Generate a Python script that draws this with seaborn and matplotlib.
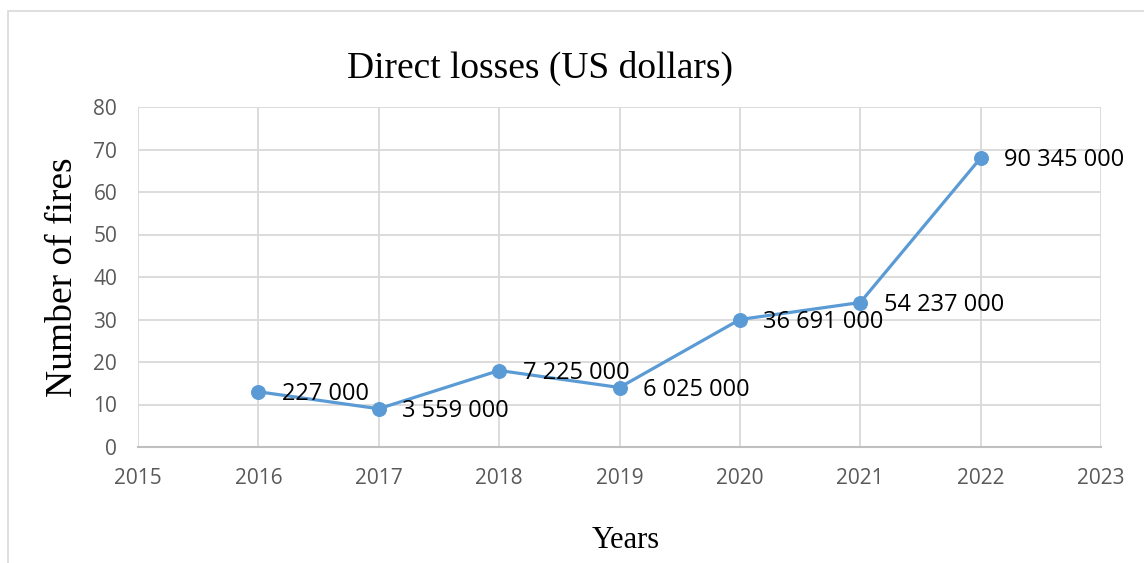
import matplotlib
matplotlib.use("Agg")
import matplotlib.pyplot as plt
import seaborn as sns
import pandas as pd
from matplotlib.patches import Rectangle

years = [2016, 2017, 2018, 2019, 2020, 2021, 2022]
fires = [13, 9, 18, 14, 30, 34, 68]
losses_labels = ["227 000", "3 559 000", "7 225 000", "6 025 000",
                 "36 691 000", "54 237 000", "90 345 000"]
x_ticks = list(range(2015, 2024))
y_ticks = list(range(0, 81, 10))

title = "Direct losses (US dollars)"
xlabel = "Years"
ylabel = "Number of fires"

sns.set_theme(style="white")
plt.rcParams['font.family'] = ['Open Sans', 'DejaVu Sans']

df = pd.DataFrame({"year": years, "fires": fires})

fig = plt.figure(figsize=(11.44, 5.63), dpi=100)
ax = fig.add_axes([138/1144, 1-447/563, (1101-138)/1144, (447-107)/563])

line_color = "#5B9BD5"
sns.lineplot(data=df, x="year", y="fires", ax=ax, color=line_color,
             linewidth=2.3, marker="o", markersize=10,
             markeredgecolor=line_color, markerfacecolor=line_color)

ax.set_xlim(2015, 2023)
ax.set_ylim(0, 80)
ax.set_xticks(x_ticks)
ax.set_yticks(y_ticks)
ax.set_xticklabels([str(t) for t in x_ticks])
ax.grid(True, color="#D9D9D9", linewidth=1.3)
ax.set_axisbelow(True)
for s in ["top", "right", "left"]:
    ax.spines[s].set_visible(False)
ax.spines["bottom"].set_color("#BFBFBF")
ax.spines["bottom"].set_linewidth(1.5)
ax.tick_params(axis="both", length=0, labelsize=15, labelcolor="#595959")
ax.tick_params(axis="x", pad=15)
ax.tick_params(axis="y", pad=15)

for x, y, lab in zip(years, fires, losses_labels):
    ax.annotate(lab, (x, y), xytext=(17, -1.5), textcoords="offset points",
                ha="left", va="center", fontsize=17, color="black")

ax.set_xlabel(xlabel, fontsize=22, family="Liberation Serif", color="black")
ax.set_ylabel(ylabel, fontsize=27, family="Liberation Serif", color="black")
ax.xaxis.set_label_coords(0.506, -0.232)
ax.yaxis.set_label_coords(-0.060, 0.5)

fig.text(540/1144, 1-68/563, title, fontsize=27, family="Liberation Serif",
         ha="center", va="center", color="black")

fig.patches.append(Rectangle((8/1144, -0.05), 1.2, 1-11/563+0.05,
                             transform=fig.transFigure, fill=False,
                             edgecolor="#D9D9D9", linewidth=1.2))

fig.savefig("out.png", dpi=100)
